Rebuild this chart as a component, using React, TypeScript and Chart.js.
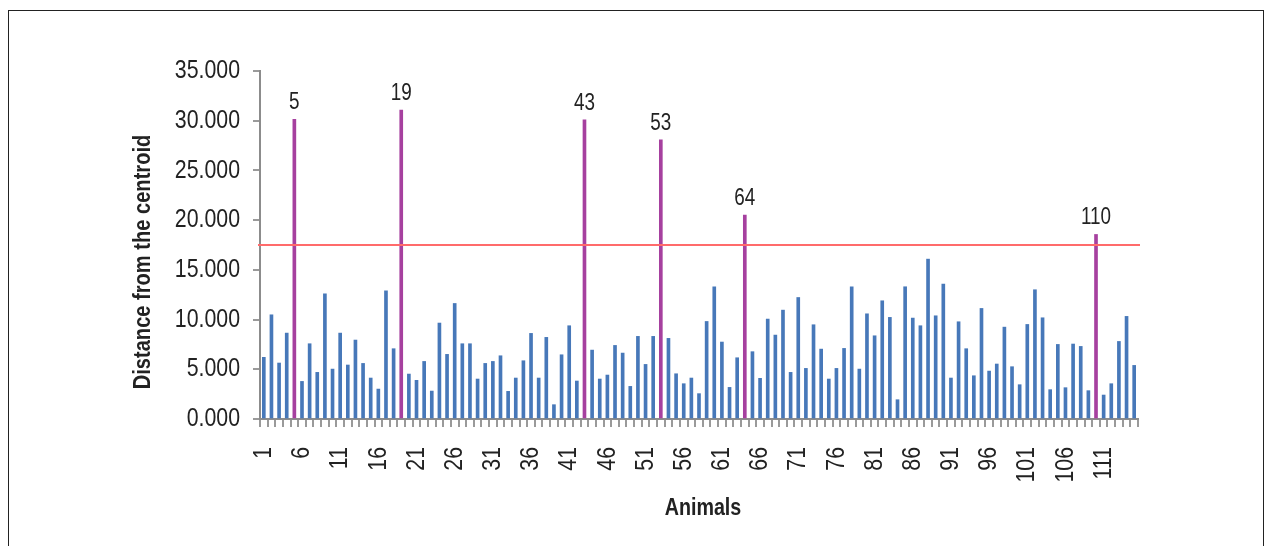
import React, { useEffect, useRef } from "react";
import { Chart, registerables } from "chart.js";

Chart.register(...registerables);

const values: number[] = [
  6.2, 10.48, 5.63, 8.64, 30.14, 3.78, 7.57, 4.69, 12.59, 5.02,
  8.64, 5.43, 7.94, 5.59, 4.12, 3.01, 12.89, 7.07, 31.08, 4.52,
  3.89, 5.79, 2.81, 9.65, 6.5, 11.62, 7.57, 7.57, 4.02, 5.59,
  5.79, 6.36, 2.78, 4.12, 5.86, 8.61, 4.12, 8.21, 1.44, 6.46,
  9.38, 3.82, 30.08, 6.93, 4.02, 4.42, 7.4, 6.63, 3.28, 8.31,
  5.49, 8.31, 28.07, 8.11, 4.55, 3.55, 4.12, 2.55, 9.81, 13.3,
  7.74, 3.18, 6.16, 20.5, 6.77, 4.09, 10.05, 8.44, 10.95, 4.69,
  12.22, 5.09, 9.48, 7.03, 4.02, 5.09, 7.1, 13.3, 5.02, 10.58,
  8.37, 11.89, 10.22, 1.94, 13.3, 10.15, 9.38, 16.08, 10.38, 13.56,
  4.12, 9.78, 7.07, 4.35, 11.12, 4.82, 5.53, 9.24, 5.26, 3.45,
  9.51, 13.0, 10.18, 2.95, 7.5, 3.15, 7.54, 7.3, 2.85, 18.56,
  2.41, 3.55, 7.8, 10.32, 5.39,
];

const categories: string[] = values.map((_, i) => String(i + 1));

const outlierAnimals: number[] = [5, 19, 43, 53, 64, 110];
const outlierLabels: string[] = ["5", "19", "43", "53", "64", "110"];

const threshold = 17.5;

const yTicks: number[] = [0, 5, 10, 15, 20, 25, 30, 35];

const xTitle = "Animals";
const yTitle = "Distance from the centroid";

const FAMILY = "'Liberation Sans', Arial, sans-serif";
const SX = 0.82; // horizontal condensing to emulate a narrow face

const BLUE = "#4778b9";
const MAGENTA = "#a6409f";
const TEXT = "#222";

function drawText(
  ctx: CanvasRenderingContext2D,
  text: string,
  x: number,
  y: number,
  font: string,
  align: CanvasTextAlign,
  baseline: CanvasTextBaseline,
  rot = 0
) {
  ctx.save();
  ctx.translate(x, y);
  if (rot) ctx.rotate(rot);
  ctx.scale(SX, 1);
  ctx.font = font;
  ctx.textAlign = align;
  ctx.textBaseline = baseline;
  ctx.fillStyle = TEXT;
  ctx.fillText(text, 0, 0);
  ctx.restore();
}

const overlayPlugin = {
  id: "overlay",
  afterDraw(chart: any) {
    const { ctx, chartArea, scales } = chart;
    const x = scales.x;
    const y = scales.y;
    // threshold line
    const ty = y.getPixelForValue(threshold);
    ctx.save();
    ctx.strokeStyle = "#ff6b6b";
    ctx.lineWidth = 2;
    ctx.beginPath();
    ctx.moveTo(chartArea.left - 2, ty);
    ctx.lineTo(chartArea.right + 2, ty);
    ctx.stroke();
    ctx.restore();

    // outlier labels
    outlierAnimals.forEach((a, k) => {
      const idx = a - 1;
      const px = x.getPixelForValue(idx);
      const py = y.getPixelForValue(values[idx]);
      drawText(ctx, outlierLabels[k], px, py - 10, `23px ${FAMILY}`, "center", "alphabetic");
    });

    // y tick labels
    yTicks.forEach((v) => {
      drawText(
        ctx,
        v.toFixed(3),
        y.left + y.width - 20,
        y.getPixelForValue(v),
        `26px ${FAMILY}`,
        "right",
        "middle"
      );
    });

    // x tick labels (every 5th animal), rotated
    categories.forEach((c, i) => {
      if (i % 5 !== 0) return;
      drawText(
        ctx,
        c,
        x.getPixelForValue(i),
        x.top + 28,
        `26px ${FAMILY}`,
        "right",
        "middle",
        -Math.PI / 2
      );
    });

    // axis titles
    drawText(ctx, yTitle, 134, 251, `bold 24.5px ${FAMILY}`, "center", "middle", -Math.PI / 2);
    drawText(ctx, xTitle, 694, 497, `bold 24px ${FAMILY}`, "center", "middle");
  },
};

export default function App() {
  const ref = useRef<HTMLCanvasElement>(null);
  useEffect(() => {
    if (!ref.current) return;
    const colors = values.map((_, i) =>
      outlierAnimals.includes(i + 1) ? MAGENTA : BLUE
    );
    const chart = new Chart(ref.current, {
      type: "bar",
      data: {
        labels: categories,
        datasets: [
          {
            data: values,
            backgroundColor: colors,
            borderWidth: 0,
            barThickness: 3,
          },
        ],
      },
      options: {
        animation: false,
        responsive: false,
        devicePixelRatio: 1,
        layout: { padding: { top: 60, right: 125, bottom: 0, left: 0 } },
        plugins: {
          legend: { display: false },
          tooltip: { enabled: false },
        },
        scales: {
          x: {
            type: "category",
            offset: true,
            grid: {
              display: true,
              drawOnChartArea: false,
              drawTicks: true,
              tickLength: 8,
              color: "#9a9a9a",
              lineWidth: 2,
              offset: true,
            },
            border: { display: true, color: "#8c8c8c", width: 2 },
            ticks: { display: false, autoSkip: false },
            afterFit: (s: any) => {
              s.height = 132;
            },
          },
          y: {
            min: 0,
            max: 35,
            afterBuildTicks: (s: any) => {
              s.ticks = yTicks.map((v) => ({ value: v }));
            },
            grid: {
              display: true,
              drawOnChartArea: false,
              drawTicks: true,
              tickLength: 7,
              color: "#9a9a9a",
              lineWidth: 2,
            },
            border: { display: true, color: "#8c8c8c", width: 2 },
            ticks: { display: false },
            afterFit: (s: any) => {
              s.width = 251;
            },
          },
        },
      },
      plugins: [overlayPlugin],
    });
    return () => chart.destroy();
  }, []);

  return (
    <div
      style={{
        position: "fixed",
        left: 8,
        top: 10,
        width: 1254,
        height: 560,
        border: "1px solid #222",
        background: "#fff",
      }}
    >
      <canvas ref={ref} width={1254} height={540} style={{ display: "block" }} />
    </div>
  );
}
